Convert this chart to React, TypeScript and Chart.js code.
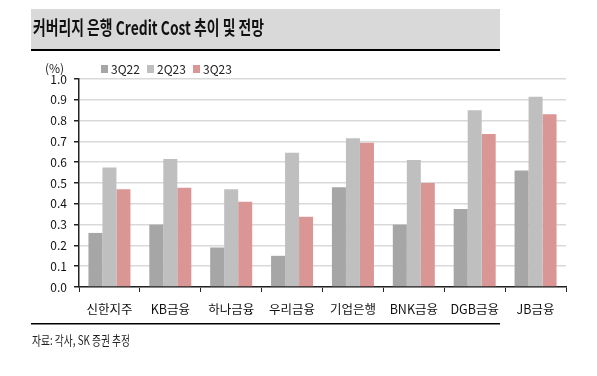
import React, { useEffect, useRef } from "react";
import { Chart, registerables } from "chart.js";

Chart.register(...registerables);

const categories = ["신한지주", "KB금융", "하나금융", "우리금융", "기업은행", "BNK금융", "DGB금융", "JB금융"];
const seriesNames = ["3Q22", "2Q23", "3Q23"];
const values3Q22 = [0.26, 0.3, 0.19, 0.15, 0.48, 0.3, 0.375, 0.56];
const values2Q23 = [0.575, 0.615, 0.47, 0.645, 0.715, 0.61, 0.85, 0.915];
const values3Q23 = [0.47, 0.477, 0.41, 0.338, 0.693, 0.5, 0.735, 0.83];
const yTicks = [0.0, 0.1, 0.2, 0.3, 0.4, 0.5, 0.6, 0.7, 0.8, 0.9, 1.0];
const titleText = "커버리지 은행 Credit Cost 추이 및 전망";
const sourceText = "자료: 각사, SK 증권 추정";
const unitText = "(%)";

const colors = ["#a6a6a6", "#bfbfbf", "#d99694"];
const FONT = "'Noto Sans CJK KR', 'Noto Sans', sans-serif";

const decorPlugin = {
  id: "decor",
  beforeDraw(chart: any) {
    const ctx = chart.ctx as CanvasRenderingContext2D;
    ctx.save();
    ctx.fillStyle = "#ffffff";
    ctx.fillRect(0, 0, chart.width, chart.height);
    // title band
    ctx.fillStyle = "#d9d9d9";
    ctx.fillRect(31, 9, 469, 40);
    ctx.fillStyle = "#000000";
    ctx.fillRect(31, 49, 469, 2);
    // title
    ctx.font = `bold 19px ${FONT}`;
    ctx.textBaseline = "middle";
    ctx.textAlign = "left";
    const w = ctx.measureText(titleText).width;
    const sx = 231 / w;
    ctx.save();
    ctx.translate(33, 28);
    ctx.scale(sx, 1);
    ctx.fillStyle = "#111111";
    ctx.fillText(titleText, 0, 0);
    ctx.restore();
    // bottom rule
    ctx.fillStyle = "#000000";
    ctx.fillRect(31, 323, 469, 1.5);
    // source
    ctx.font = `13px ${FONT}`;
    const ws = ctx.measureText(sourceText).width;
    ctx.save();
    ctx.translate(32, 340);
    ctx.scale(98 / ws, 1);
    ctx.fillStyle = "#222222";
    ctx.fillText(sourceText, 0, 0);
    ctx.restore();
    // unit
    ctx.font = `12px ${FONT}`;
    ctx.fillStyle = "#222222";
    ctx.fillText(unitText, 45, 68);
    // legend
    const ds = chart.data.datasets;
    for (let i = 0; i < ds.length; i++) {
      const x = 101 + i * 46;
      ctx.fillStyle = ds[i].backgroundColor;
      ctx.fillRect(x, 65, 7, 8);
      ctx.fillStyle = "#222222";
      ctx.font = `12px ${FONT}`;
      ctx.fillText(ds[i].label, x + 10, 69);
    }
    ctx.restore();
  },
};

export default function App() {
  const ref = useRef<HTMLCanvasElement>(null);
  useEffect(() => {
    document.body.style.margin = "0";
    const chart = new Chart(ref.current!, {
      type: "bar",
      data: {
        labels: categories,
        datasets: [
          { label: seriesNames[0], data: values3Q22, backgroundColor: colors[0] },
          { label: seriesNames[1], data: values2Q23, backgroundColor: colors[1] },
          { label: seriesNames[2], data: values3Q23, backgroundColor: colors[2] },
        ],
      },
      options: {
        responsive: false,
        animation: false,
        layout: { padding: { top: 79, right: 31, left: 0, bottom: 0 } },
        datasets: { bar: { categoryPercentage: 0.69, barPercentage: 1.0 } },
        plugins: { legend: { display: false }, title: { display: false }, tooltip: { enabled: false } },
        scales: {
          x: {
            grid: { drawOnChartArea: false, drawTicks: true, tickLength: 5, tickColor: "#222", offset: true },
            border: { color: "#222", width: 1.5 },
            ticks: { color: "#111", font: { family: FONT, size: 12.5 }, padding: 10, maxRotation: 0, autoSkip: false },
            afterFit: (s: any) => { s.height = 89; },
          },
          y: {
            min: 0,
            max: 1,
            afterBuildTicks: (s: any) => { s.ticks = yTicks.map((v) => ({ value: v })); },
            grid: { color: "#d9d9d9", lineWidth: 1.5, drawTicks: true, tickLength: 5, tickColor: "#222" },
            border: { color: "#222", width: 1.5 },
            ticks: {
              color: "#111",
              font: { family: FONT, size: 12 },
              padding: 7,
              callback: (v: any) => Number(v).toFixed(1),
            },
            afterFit: (s: any) => { s.width = 79; },
          },
        },
      },
      plugins: [decorPlugin],
    });
    return () => chart.destroy();
  }, []);
  return <canvas ref={ref} width={597} height={376} style={{ display: "block" }} />;
}
